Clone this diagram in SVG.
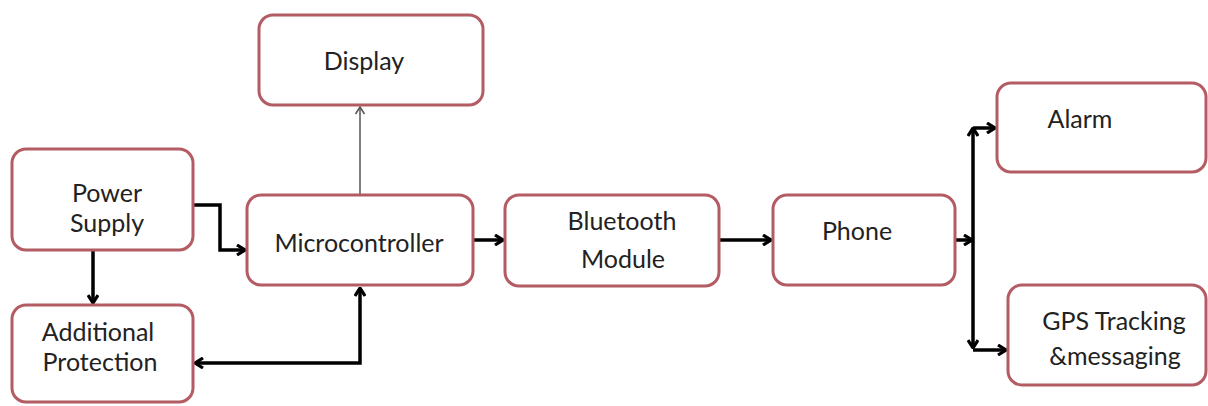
<svg xmlns="http://www.w3.org/2000/svg" width="1208" height="406" viewBox="0 0 1208 406">
<style>
.box{fill:#ffffff;stroke:#b35c63;stroke-width:3}
.t{font-family:Lato,"Open Sans","Liberation Sans",sans-serif;font-size:25px;fill:#222222;text-anchor:middle}
.c{fill:none;stroke:#000000;stroke-width:3.5;stroke-linejoin:miter}
.thin{fill:none;stroke:#555555;stroke-width:1.5}
</style>
<defs>
<marker id="ah" markerWidth="12" markerHeight="12" viewBox="0 0 12 12" refX="10" refY="6" orient="auto" markerUnits="userSpaceOnUse">
<path d="M2,1 L10,6 L2,11" fill="none" stroke="#000" stroke-width="3.2"/>
</marker>
<marker id="ahs" markerWidth="12" markerHeight="12" viewBox="0 0 12 12" refX="11" refY="6" orient="auto-start-reverse" markerUnits="userSpaceOnUse">
<path d="M3,1 L11,6 L3,11" fill="none" stroke="#000" stroke-width="3.2"/>
</marker>
<marker id="thinah" markerWidth="12" markerHeight="12" viewBox="0 0 12 12" refX="10" refY="6" orient="auto" markerUnits="userSpaceOnUse">
<path d="M3,1.5 L10,6 L3,10.5" fill="none" stroke="#555" stroke-width="1.5"/>
</marker>
</defs>
<rect width="1208" height="406" fill="#ffffff"/>
<g id="connectors">
<path class="c" d="M193,205 H220 V250 H245" marker-end="url(#ah)"/>
<path class="c" d="M93,251 V303" marker-end="url(#ah)"/>
<path class="c" d="M195,363 H360 V288" marker-start="url(#ahs)" marker-end="url(#ahs)"/>
<path class="thin" d="M360,195 V107" marker-end="url(#thinah)"/>
<path class="c" d="M473,240 H503" marker-end="url(#ah)"/>
<path class="c" d="M719,240 H771" marker-end="url(#ah)"/>
<path class="c" d="M955,240 H972" marker-end="url(#ah)"/>
<path class="c" d="M973,128 V348" marker-start="url(#ahs)" marker-end="url(#ahs)"/>
<path class="c" d="M973,128 H995" marker-end="url(#ah)"/>
<path class="c" d="M973,350 H1006" marker-end="url(#ah)"/>
</g>
<g id="display"><rect class="box" x="259" y="15" width="224" height="90" rx="14"/><text class="t" x="364" y="70">Display</text></g>
<g id="power-supply"><rect class="box" x="12" y="149" width="181" height="101" rx="14"/><text class="t" x="107" y="202">Power</text><text class="t" x="107" y="232">Supply</text></g>
<g id="additional-protection"><rect class="box" x="12" y="305" width="181" height="97" rx="14"/><text class="t" x="98" y="341">Additional</text><text class="t" x="100" y="371">Protection</text></g>
<g id="microcontroller"><rect class="box" x="247" y="195" width="226" height="90" rx="14"/><text class="t" x="359" y="252">Microcontroller</text></g>
<g id="bluetooth-module"><rect class="box" x="505" y="195" width="214" height="91" rx="14"/><text class="t" x="622" y="230">Bluetooth</text><text class="t" x="623" y="268">Module</text></g>
<g id="phone"><rect class="box" x="773" y="195" width="182" height="90" rx="14"/><text class="t" x="857" y="240">Phone</text></g>
<g id="alarm"><rect class="box" x="997" y="83" width="209" height="89" rx="14"/><text class="t" x="1080" y="128">Alarm</text></g>
<g id="gps"><rect class="box" x="1008" y="285" width="198" height="100" rx="14"/><text class="t" x="1114" y="330">GPS Tracking</text><text class="t" x="1115" y="365">&amp;messaging</text></g>
</svg>
